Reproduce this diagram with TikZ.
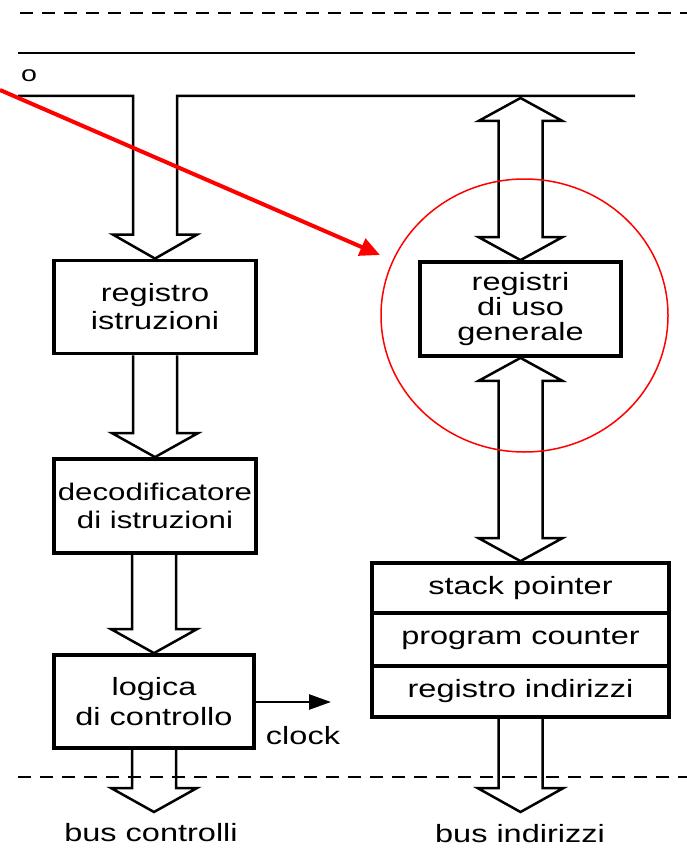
\documentclass[tikz,border=0pt]{standalone}
\usepackage{fontspec}
\setmainfont[FakeStretch=1.3]{Liberation Sans}
\usetikzlibrary{arrows.meta,calc,shapes.geometric}
\newcommand\hollowarrow[2]{% #1 start, #2 tip (same x as tip)
  \draw[tube] ($(#2 |- #1)+(-22,0)$) -- ($(#2)+(-22,24)$) -- ($(#2)+(-43,24)$) -- (#2)
    -- ($(#2)+(43,24)$) -- ($(#2)+(22,24)$) -- ($(#2 |- #1)+(22,0)$);}
\newcommand\hollowdouble[2]{% #1 top tip, #2 bottom tip
  \draw[tube] (#1) -- ($(#1)+(42,-23)$) -- ($(#1)+(22,-23)$) -- ($(#2)+(22,23)$) -- ($(#2)+(42,23)$)
    -- (#2) -- ($(#2)+(-42,23)$) -- ($(#2)+(-22,23)$) -- ($(#1)+(-22,-23)$) -- ($(#1)+(-42,-23)$) -- cycle;}
\begin{document}
\begin{tikzpicture}[x=1pt,y=1pt,
  txt/.style={font=\fontsize{25}{28}\selectfont},
  box/.style={draw, line width=3.8pt, minimum width=202pt, minimum height=93pt, inner sep=0pt, align=center, txt},
  row/.style={draw, line width=3.8pt, minimum width=297pt, inner sep=0pt, txt},
  tube/.style={line width=2.5pt, line join=miter},
  busline/.style={line width=2.5pt},
  dashline/.style={line width=2.5pt, dash pattern=on 13pt off 9pt},
  lbl/.style={inner sep=0pt, txt},
  redline/.style={draw=red, line width=4pt, -{Triangle[length=20pt,width=18pt]}},
  ring/.style={draw=red, line width=1.5pt, ellipse, minimum width=287pt, minimum height=273pt, inner sep=0pt}
]
\useasboundingbox (0,0) rectangle (687,-848);

% dashed borders
\coordinate (d1a) at (20,-13); \coordinate (d1b) at (687,-13);
\coordinate (d2a) at (18,-777); \coordinate (d2b) at (687,-777);
\draw[dashline] (d1a) -- (d1b);
\draw[dashline] (d2a) -- (d2b);

% bus lines
\coordinate (l1a) at (18,-53); \coordinate (l1b) at (635,-53);
\draw[busline] (l1a) -- (l1b);
\node[lbl, font=\fontsize{22}{24}\selectfont] (o) at (29,-76) {o};
\coordinate (l2a) at (18,-96); \coordinate (l2b) at (635,-96);

% left column boxes
\node[box] (ri) at (155,-307) {registro\\istruzioni};
\node[box, minimum height=94pt, font=\fontsize{24}{28}\selectfont] (di) at (155,-506) {decodificatore\\di istruzioni};
\node[box, minimum width=200pt, font=\fontsize{25}{30}\selectfont] (lc) at (154,-701.5) {logica\\di controllo};

% right column
\node[box, minimum width=201pt, minimum height=94pt, font=\fontsize{25}{25}\selectfont] (rg) at (520.5,-309) {registri\\di uso\\generale};
\node[row, minimum height=50pt] (sp) at (520.5,-588) {stack pointer};
\node[row, minimum height=53pt] (pc) at (520.5,-639.5) {program counter};
\node[row, minimum height=51pt] (rind) at (520.5,-691.5) {registro indirizzi};

% top-left bus into registro istruzioni
\draw[tube] (l2a) -- ($(ri.north |- l2a)+(-22,0)$) -- ($(ri.north)+(-22,24)$) -- ($(ri.north)+(-42,24)$) -- (ri.north)
  -- ($(ri.north)+(42,24)$) -- ($(ri.north)+(22,24)$) -- ($(ri.north |- l2a)+(22,0)$) -- (l2b);

% left column arrows
\hollowarrow{ri.south}{di.north}
\hollowarrow{di.south}{lc.north}
\coordinate (cbus) at (154,-812);
\hollowarrow{lc.south}{cbus}
\node[lbl] (cbl) at (151,-833) {bus controlli};

% clock
\coordinate (clk) at (331,-702);
\draw[line width=2.5pt, -{Triangle[length=22pt,width=15pt]}] (lc.east |- clk) -- (clk);
\node[lbl] (clock) at (303,-736) {clock};

% right column arrows
\coordinate (dtop) at (520.5,-98);
\hollowdouble{dtop}{rg.north}
\hollowdouble{rg.south}{sp.north}
\coordinate (ibus) at (520.5,-812);
\hollowarrow{rind.south}{ibus}
\node[lbl] (ibl) at (520,-834) {bus indirizzi};

% red annotation
\node[ring] (circ) at (524.5,-315.5) {};
\coordinate (rstart) at (0,-90); \coordinate (rtip) at (380,-255);
\draw[redline] (rstart) -- (rtip);
\end{tikzpicture}
\end{document}
